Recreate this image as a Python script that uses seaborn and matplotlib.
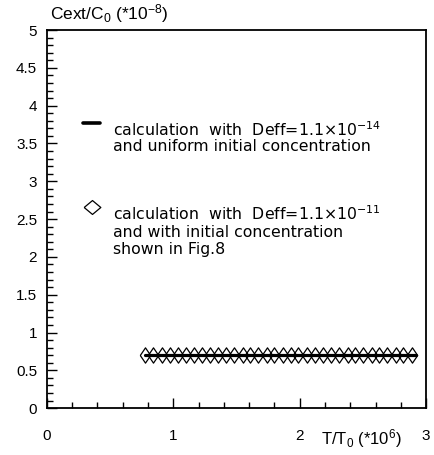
import matplotlib
matplotlib.use("Agg")

import pandas as pd
import seaborn as sns
import matplotlib.pyplot as plt
from matplotlib.ticker import MultipleLocator

# values
diamond_t = [0.78, 0.84, 0.91, 0.97, 1.04, 1.10, 1.16, 1.23, 1.29, 1.35,
             1.42, 1.48, 1.55, 1.61, 1.67, 1.74, 1.80, 1.87, 1.93, 1.99,
             2.06, 2.12, 2.18, 2.25, 2.31, 2.38, 2.44, 2.50, 2.57, 2.63,
             2.69, 2.76, 2.82, 2.89]
diamond_c = [0.70] * len(diamond_t)
line_t = [0.78, 2.92]
line_c = [0.70, 0.70]

x_ticks = [0, 1, 2, 3]
y_ticks = [0, 0.5, 1, 1.5, 2, 2.5, 3, 3.5, 4, 4.5, 5]
y_tick_labels = ["0", "0.5", "1", "1.5", "2", "2.5", "3", "3.5", "4", "4.5", "5"]

sns.set_style("ticks")
plt.rcParams["font.family"] = ["Liberation Sans", "DejaVu Sans"]
plt.rcParams["mathtext.fontset"] = "custom"
plt.rcParams["mathtext.rm"] = "Liberation Sans"
plt.rcParams["mathtext.it"] = "Liberation Sans:italic"
plt.rcParams["mathtext.default"] = "regular"
plt.rcParams["text.color"] = "black"
plt.rcParams["axes.labelcolor"] = "black"
plt.rcParams["xtick.color"] = "black"
plt.rcParams["ytick.color"] = "black"

fig = plt.figure(figsize=(4.34, 4.55), dpi=100)
ax = fig.add_axes([0.108, 0.103, 0.874, 0.831])

# hollow diamonds: tall ones on the curve, wider one in the legend
tall_diamond = [(-0.68, 0), (0, 1), (0.68, 0), (0, -1), (-0.68, 0)]
wide_diamond = [(-1.2, 0), (0, 1), (1.2, 0), (0, -1), (-1.2, 0)]

df_line = pd.DataFrame({"t": line_t, "c": line_c})
df_pts = pd.DataFrame({"t": diamond_t, "c": diamond_c})

sns.lineplot(data=df_line, x="t", y="c", color="black", linewidth=2.3, ax=ax)
sns.lineplot(data=df_pts, x="t", y="c", linestyle="", marker=tall_diamond,
             markersize=11, markerfacecolor="none", markeredgecolor="black",
             markeredgewidth=0.9, ax=ax)

ax.set_xlim(0, 3)
ax.set_ylim(0, 5)
ax.set_xticks(x_ticks)
ax.set_xticklabels([str(v) for v in x_ticks])
ax.set_yticks(y_ticks)
ax.set_yticklabels(y_tick_labels)
ax.xaxis.set_minor_locator(MultipleLocator(0.2))
ax.yaxis.set_minor_locator(MultipleLocator(0.1))
ax.tick_params(which="major", direction="in", length=7, width=1, labelsize=11,
               color="black", labelcolor="black")
ax.tick_params(which="minor", direction="in", length=4, width=1, color="black")
ax.tick_params(axis="x", which="major", pad=15)
ax.tick_params(axis="y", which="major", pad=7)
for s in ax.spines.values():
    s.set_visible(True)
    s.set_color("black")
    s.set_linewidth(1.3)

ax.set_xlabel(r"T/T$_0$ (*10$^6$)", fontsize=12, color="black")
ax.xaxis.set_label_coords(0.83, -0.05)
ax.set_ylabel(r"Cext/C$_0$ (*10$^{-8}$)", fontsize=12.5, rotation=0, ha="left",
              va="bottom", color="black")
ax.yaxis.set_label_coords(0.008, 1.012)

# hand-made legend
tr = ax.transAxes
ax.plot([0.095, 0.14], [0.754, 0.754], color="black", linewidth=2.6,
        transform=tr, clip_on=False)
ax.plot([0.118], [0.532], linestyle="", marker=wide_diamond, markersize=12,
        markerfacecolor="none", markeredgecolor="black", markeredgewidth=0.9,
        transform=tr)

legend_lines = [
    (0.720, r"calculation  with  Deff=1.1$\times$10$^{-14}$"),
    (0.680, "and uniform initial concentration"),
    (0.497, r"calculation  with  Deff=1.1$\times$10$^{-11}$"),
    (0.452, "and with initial concentration"),
    (0.407, "shown in Fig.8"),
]
for ypos, txt in legend_lines:
    ax.text(0.174, ypos, txt, fontsize=11.3, family="DejaVu Sans",
            math_fontfamily="dejavusans", va="baseline", ha="left",
            color="black", transform=tr)

fig.savefig("out.png", dpi=100)
plt.close(fig)
